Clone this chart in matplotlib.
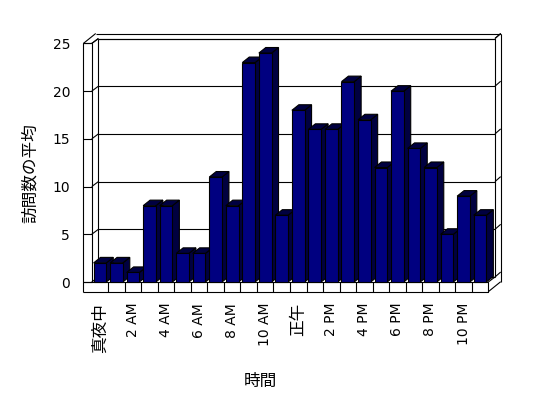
import matplotlib
matplotlib.use("Agg")
import matplotlib.pyplot as plt
from matplotlib.patches import Polygon

plt.rcParams['font.family'] = ['DejaVu Sans', 'Noto Sans CJK JP']

# data
hours = ['真夜中', '1 AM', '2 AM', '3 AM', '4 AM', '5 AM', '6 AM', '7 AM', '8 AM', '9 AM',
         '10 AM', '11 AM', '正午', '1 PM', '2 PM', '3 PM', '4 PM', '5 PM', '6 PM', '7 PM',
         '8 PM', '9 PM', '10 PM', '11 PM']
visits = [2, 2, 1, 8, 8, 3, 3, 11, 8, 23, 24, 7, 18, 16, 16, 21, 17, 12, 20, 14, 12, 5, 9, 7]
yticks = [0, 5, 10, 15, 20, 25]

n = len(visits)
front = '#000080'
shade = '#000040'
lw = 0.8

fig = plt.figure(figsize=(5.48, 3.98), dpi=100)
ax = fig.add_axes([91.7 / 548, (398 - 282) / 398, 396.6 / 548, (282 - 43.5) / 398])
ax.set_xlim(-0.5, n - 0.5)
ax.set_ylim(0, 25)
for s in ax.spines.values():
    s.set_visible(False)
ax.patch.set_alpha(0)

# 3d box offsets (in data units)
dx, dy = 0.405, 0.524      # front plane -> back wall
tx, ty = 0.345, 0.524      # wall thickness
bx, by = 0.42, 0.58        # bar depth
xl = -1.008                # outer edge of left wall
yb = -1.017                # bottom of floor
x0, x1 = -0.5, n - 0.5
top = 25


def line(xs, ys):
    ax.plot(xs, ys, color='black', lw=lw, clip_on=False, zorder=1,
            solid_capstyle='butt')


# back wall
line([x0 + dx, x1 + dx, x1 + dx], [top + dy, top + dy, dy])
line([x0 + dx, x0 + dx], [dy, top + dy])
line([xl + dx + tx, x1 + dx + tx], [top + dy + ty, top + dy + ty])
line([x1 + dx, x1 + dx + tx], [top + dy, top + dy + ty])
line([x1 + dx + tx, x1 + dx + tx], [top + dy + ty, yb + dy + ty])
# left wall
line([xl, xl], [yb, top])
line([x0, x0], [0, top])
line([xl, x0], [top, top])
line([xl, xl + dx + tx], [top, top + dy + ty])
line([x0, x0 + dx], [top, top + dy])
# grid
for v in yticks:
    line([x0 + dx, x1 + dx], [v + dy, v + dy])
    line([x0, x0 + dx], [v, v + dy])
    line([xl, x0], [v, v])
    line([x1 + dx, x1 + dx + tx], [v + dy, v + dy + ty])
# floor
line([xl, x1, x1, xl], [yb, yb, 0, 0])
for k in range(n - 1):
    line([k + 0.5, k + 0.5], [yb, 0])
line([x1, x1 + dx], [0, dy])
line([x1, x1 + dx + tx], [yb, yb + dy + ty])

# bars
w = 0.77
bars = ax.bar(range(n), visits, width=w, color=front, edgecolor='black', linewidth=lw)
for i, (b, v) in enumerate(zip(bars, visits)):
    l, r = i - w / 2, i + w / 2
    side = Polygon([(r, 0), (r + bx, by), (r + bx, v + by), (r, v)], closed=True,
                   facecolor=shade, edgecolor='black', lw=lw, zorder=3 + 2 * i,
                   clip_on=False)
    cap = Polygon([(l, v), (r, v), (r + bx, v + by), (l + bx, v + by)], closed=True,
                  facecolor=shade, edgecolor='black', lw=lw, zorder=3 + 2 * i,
                  clip_on=False)
    ax.add_patch(side)
    ax.add_patch(cap)
    b.set_zorder(4 + 2 * i)
    b.set_clip_on(False)

# ticks
ax.set_yticks(yticks)
ax.set_yticklabels([str(v) for v in yticks], fontsize=10)
ax.tick_params(axis='y', length=0, pad=15.6)
ax.set_xticks(range(0, n, 2))
ax.set_xticklabels(hours[::2], rotation=90, fontsize=10)
ax.tick_params(axis='x', length=0, pad=15)
for t in ax.get_xticklabels():
    if 'M' not in t.get_text():
        t.set_fontsize(12)

ax.set_ylabel('訪問数の平均', fontsize=12, va='center')
ax.yaxis.set_label_coords((30 - 91.7) / 396.6, (282 - 173) / 238.5)
ax.set_xlabel('時間', fontsize=12, va='center')
ax.xaxis.set_label_coords((260 - 91.7) / 396.6, (282 - 381) / 238.5)

fig.savefig('out.png', dpi=100)
